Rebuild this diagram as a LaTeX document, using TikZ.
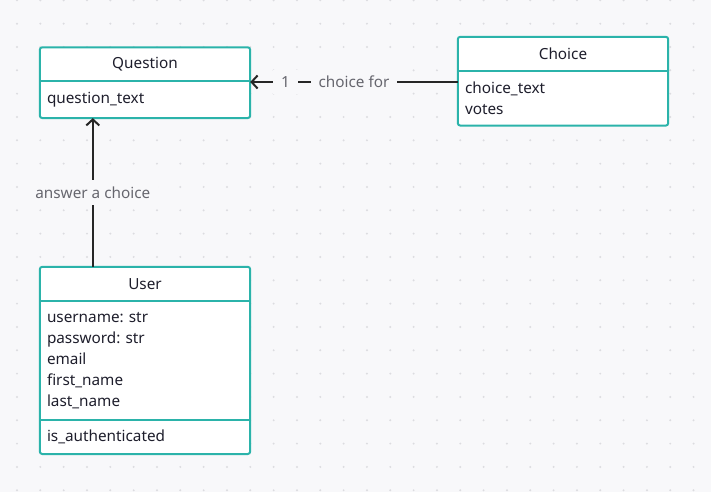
\documentclass[tikz,border=0pt]{standalone}
\usepackage{fontspec}
\setmainfont{Noto Sans}
\usetikzlibrary{arrows.meta}
\frenchspacing

\definecolor{canvas}{HTML}{F8F8FA}
\definecolor{griddot}{HTML}{DCDCE0}
\definecolor{frame}{HTML}{2BB3AA}
\definecolor{ink}{HTML}{1E1E2C}
\definecolor{labelgray}{HTML}{66666E}

\tikzset{
  classhead/.style={minimum width=210pt, minimum height=33pt, inner sep=0pt, fill=white, text=ink},
  classbody/.style={text width=196pt, inner xsep=7pt, inner ysep=0pt, fill=white, text=ink, align=left, anchor=north},
  classframe/.style={draw=frame, line width=2pt, rounded corners=2.5pt},
  divider/.style={draw=frame, line width=2pt},
  assoc/.style={draw=black!85, line width=2pt, -{Straight Barb[length=6pt,width=13pt]}},
  rolelabel/.style={fill=canvas, text=labelgray, inner xsep=8pt, inner ysep=7pt},
}

\begin{document}
\begin{tikzpicture}[x=1pt, y=-1pt, font=\fontsize{15.3}{21}\selectfont]
    \useasboundingbox[fill=canvas] (0,0) rectangle (711,492);
    % dotted canvas
    \foreach \i in {0,...,29}
        \foreach \j in {0,...,21}
            \fill[griddot] ({17+23.33*\i},{0.33+23.33*\j}) circle (1.1pt);

    % Question
    \node[classhead] (qhead) at (145,64) {Question};
    \node[classbody, minimum height=37pt] (qbody) at (qhead.south) {question\_text};
    \draw[classframe] (qhead.north west) rectangle (qbody.south east);
    \draw[divider] (qhead.south west) -- (qhead.south east);

    % Choice
    \node[classhead, minimum height=34pt] (chead) at (563,54) {Choice};
    \node[classbody, minimum height=54pt] (cbody) at (chead.south) {choice\_text\\votes};
    \draw[classframe] (chead.north west) rectangle (cbody.south east);
    \draw[divider] (chead.south west) -- (chead.south east);

    % User
    \node[classhead, minimum height=34pt] (uhead) at (145,284) {User};
    \node[classbody, minimum height=118pt] (ubody) at (uhead.south) {username: str\\password: str\\email\\first\_name\\last\_name};
    \node[classbody, minimum height=34pt] (umeth) at (ubody.south) {is\_authenticated};
    \draw[classframe] (uhead.north west) rectangle (umeth.south east);
    \draw[divider] (uhead.south west) -- (uhead.south east);
    \draw[divider] (ubody.south west) -- (ubody.south east);

    % associations
    \coordinate (link) at (0,82);
    \draw[assoc] (cbody.west |- link) to node[rolelabel, pos=0.83] {1} node[rolelabel] {choice for} (qbody.east |- link);
    \draw[assoc] ([xshift=53pt]uhead.north west) to node[rolelabel] {answer a choice} ([xshift=53pt]qbody.south west);
\end{tikzpicture}
\end{document}
